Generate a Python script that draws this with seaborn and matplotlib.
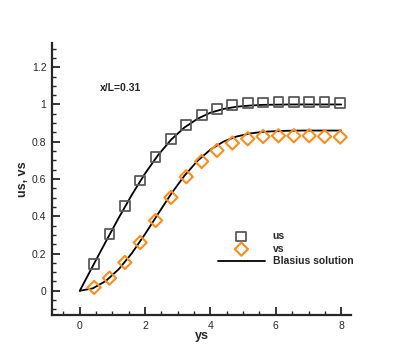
import numpy as np
import pandas as pd
import seaborn as sns
import matplotlib.pyplot as plt
from matplotlib.ticker import MultipleLocator

# measured profiles
ys_pts = [0.44, 0.91, 1.38, 1.85, 2.32, 2.79, 3.26, 3.73, 4.20, 4.67,
          5.14, 5.61, 6.08, 6.55, 7.02, 7.49, 7.97]
us_pts = [0.143, 0.304, 0.456, 0.592, 0.716, 0.816, 0.891, 0.945, 0.977, 0.997,
          1.008, 1.011, 1.012, 1.012, 1.012, 1.012, 1.010]
vs_pts = [0.018, 0.068, 0.152, 0.259, 0.377, 0.501, 0.612, 0.694, 0.753, 0.793,
          0.816, 0.828, 0.832, 0.832, 0.832, 0.828, 0.825]

# Blasius solution
ys_bl = [0.0, 0.4, 0.8, 1.2, 1.6, 2.0, 2.4, 2.8, 3.2, 3.6, 4.0, 4.4, 4.8,
         5.2, 5.6, 6.0, 6.4, 6.8, 7.2, 7.6, 8.0]
us_bl = [0.0, 0.133, 0.265, 0.394, 0.517, 0.630, 0.729, 0.812, 0.876, 0.923,
         0.956, 0.976, 0.988, 0.994, 0.998, 0.999, 1.0, 1.0, 1.0, 1.0, 1.0]
vs_bl = [0.0, 0.013, 0.053, 0.117, 0.203, 0.305, 0.414, 0.521, 0.617, 0.697,
         0.758, 0.801, 0.828, 0.844, 0.853, 0.857, 0.859, 0.860, 0.860, 0.860, 0.860]

sns.set_style("ticks")
plt.rcParams['font.family'] = ['Liberation Sans', 'DejaVu Sans']

fig = plt.figure(figsize=(3.99, 3.55), dpi=100)
ax = fig.add_axes([0.1303, 0.1127, 0.7494, 0.7662])

pts = pd.DataFrame({'ys': ys_pts, 'us': us_pts, 'vs': vs_pts})
bl = pd.DataFrame({'ys': ys_bl, 'us': us_bl, 'vs': vs_bl})

sns.scatterplot(data=pts, x='ys', y='us', ax=ax, marker='s', s=50,
                facecolors='none', edgecolor='#5a5a5a', linewidth=1.3, label='us', zorder=3)
sns.scatterplot(data=pts, x='ys', y='vs', ax=ax, marker='D', s=45,
                facecolors='none', edgecolor='#ff8c1a', linewidth=1.5, label='vs', zorder=3)
sns.lineplot(data=bl, x='ys', y='us', ax=ax, color='black', lw=1.3,
             label='Blasius solution', zorder=2)
sns.lineplot(data=bl, x='ys', y='vs', ax=ax, color='black', lw=1.3, zorder=2)

ax.set_xlim(-0.85, 8.3)
ax.set_ylim(-0.13, 1.33)
ax.xaxis.set_minor_locator(MultipleLocator(0.5))
ax.yaxis.set_minor_locator(MultipleLocator(0.05))
ax.set_yticks([0, 0.2, 0.4, 0.6, 0.8, 1.0, 1.2])
ax.set_yticklabels(['0', '0.2', '0.4', '0.6', '0.8', '1', '1.2'])
ax.set_xticks([0, 2, 4, 6, 8])
ax.set_xticklabels(['0', '2', '4', '6', '8'])

ax.tick_params(which='major', direction='in', length=6, width=1.3, labelsize=7.5, pad=4)
ax.tick_params(which='minor', direction='in', length=3, width=1.0)
for s in ['top', 'right']:
    ax.spines[s].set_visible(False)
for s in ['left', 'bottom']:
    ax.spines[s].set_linewidth(1.6)

ax.set_xlabel('ys', fontsize=9, fontweight='bold')
ax.set_ylabel('us, vs', fontsize=9, fontweight='bold')
ax.xaxis.set_label_coords(0.5, -0.055)
ax.yaxis.set_label_coords(-0.077, 0.5)

ax.text(0.61, 1.09, 'x/L=0.31', fontsize=7.5, fontweight='bold', va='center', ha='left')

leg = ax.legend(loc='center left', bbox_to_anchor=(0.555, 0.243), frameon=False,
                prop={'weight': 'bold', 'size': 7.5}, handlelength=4.5,
                labelspacing=0.25, handletextpad=0.75, borderpad=0, borderaxespad=0)

fig.savefig('out.png', dpi=100)
